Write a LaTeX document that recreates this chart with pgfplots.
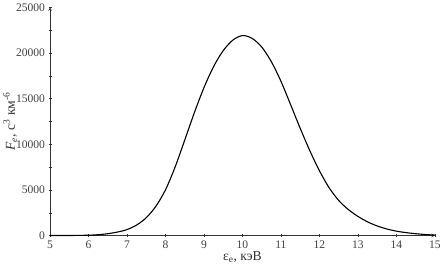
\documentclass[border=0pt]{standalone}
\usepackage{pgfplots}
\pgfplotsset{compat=1.18}
\usepackage{fontspec}
\setmainfont{Liberation Serif}
\begin{document}
\begin{tikzpicture}
\begin{axis}[
  scale only axis,
  width=381bp, height=226bp,
  xmin=5, xmax=15, ymin=0, ymax=25000,
  axis lines=left,
  axis line style={black!80, line width=0.6pt},
  xtick={5,6,...,15},
  ytick={0,5000,...,25000},
  minor y tick num=1,
  tick align=center,
  major tick length=3pt, minor tick length=3pt,
  tick style={black!80},
  scaled y ticks=false,
  /pgf/number format/assume math mode=true,
  /pgf/number format/set thousands separator={},
  tick label style={font=\fontsize{11.5}{12}\selectfont, text=black!75},
  xlabel={ε\textsubscript{e}, кэВ},
  ylabel={\textit{F}\textsubscript{\textit{e}}, с\textsuperscript{3} км\textsuperscript{-6}},
  label style={font=\fontsize{13.5}{14}\selectfont, text=black!80},
  xlabel style={yshift=4pt},
  ylabel style={yshift=-8pt},
  clip=false,
]
\addplot[black, line width=1.1pt, smooth, tension=0.5] coordinates {
(5,0) (5.5,5) (6,35) (6.25,90) (6.5,200) (6.75,380) (7,650) (7.25,1150)
(7.5,1950) (7.75,3200) (8,5000) (8.25,7500) (8.5,10450) (8.75,13450)
(9,16200) (9.25,18500) (9.5,20250) (9.75,21400) (10,21900) (10.25,21600)
(10.5,20650) (10.75,19050) (11,16900) (11.25,14350) (11.5,11750) (11.75,9300)
(12,7100) (12.25,5250) (12.5,3850) (12.75,2850) (13,2100) (13.25,1500)
(13.5,1050) (13.75,720) (14,480) (14.25,320) (14.5,200) (14.75,110) (15,50)
};
\end{axis}
\end{tikzpicture}
\end{document}
